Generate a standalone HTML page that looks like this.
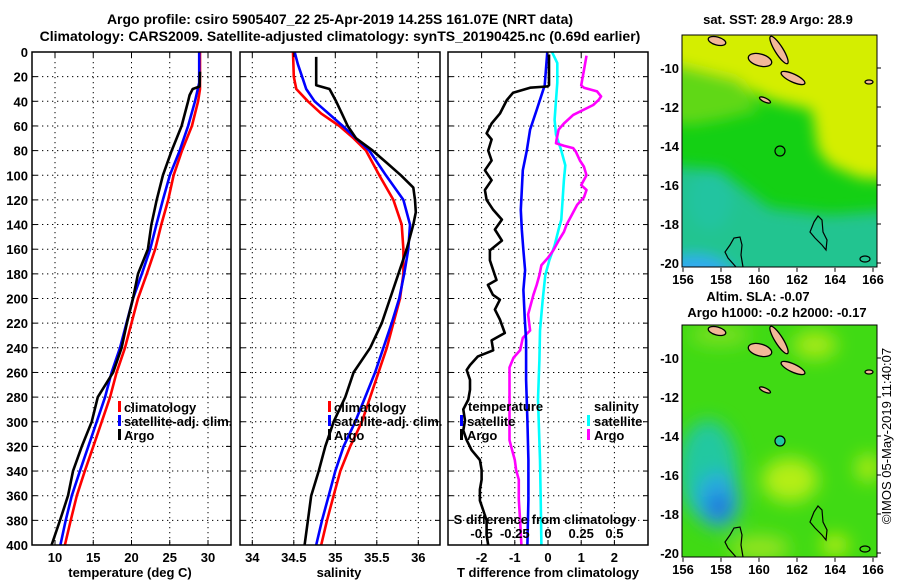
<!DOCTYPE html>
<html><head><meta charset="utf-8">
<style>
html,body{margin:0;padding:0;background:#fff;}
svg{display:block;font-family:"Liberation Sans",Arial,sans-serif;}
.b{font-weight:bold;font-size:13px;fill:#000;}
.t{font-weight:bold;font-size:14px;fill:#000;}
</style></head>
<body>
<svg id="chart" width="900" height="580" viewBox="0 0 900 580" xmlns="http://www.w3.org/2000/svg">
<defs>
<filter id="blur1" x="-20%" y="-20%" width="140%" height="140%"><feGaussianBlur stdDeviation="7"/></filter>
<filter id="blur2" x="-20%" y="-20%" width="140%" height="140%"><feGaussianBlur stdDeviation="9"/></filter>
<clipPath id="clipMap1"><rect x="682" y="35" width="195" height="232"/></clipPath>
<clipPath id="clipMap2"><rect x="682" y="325" width="195" height="232"/></clipPath>
</defs>
<text class="t" x="340" y="24" text-anchor="middle">Argo profile: csiro 5905407_22 25-Apr-2019 14.25S 161.07E (NRT data)</text>
<text class="t" x="340" y="41" text-anchor="middle">Climatology: CARS2009. Satellite-adjusted climatology: synTS_20190425.nc (0.69d earlier)</text>
<g id="grids"></g>
<g id="series"></g>
<g id="frames"></g>
<g id="labels"></g>

<!-- Map 1: SST -->
<g>
<text class="b" x="778" y="24" text-anchor="middle">sat. SST: 28.9 Argo: 28.9</text>
<g clip-path="url(#clipMap1)">
<rect x="682" y="35" width="195" height="232" fill="#14d014"/>
<g filter="url(#blur1)">
<polygon points="660,20 900,20 900,180 860,178 830,165 818,150 812,110 770,100 730,80 700,72 660,70" fill="#d4ee06"/>
<polygon points="660,60 740,80 760,110 720,120 690,125 660,120" fill="#60d818"/>
<polygon points="660,165 720,170 770,208 830,215 900,210 900,290 660,290" fill="#22c490"/>
<ellipse cx="695" cy="280" rx="40" ry="25" fill="#30aaf0"/>
<ellipse cx="710" cy="200" rx="22" ry="30" fill="#24c4a0"/>
</g>
</g>
<rect x="682" y="35" width="195" height="232" fill="none" stroke="#000" stroke-width="1"/>
<g fill="#f2b898" stroke="#000" stroke-width="1.3">
<ellipse cx="760" cy="60" rx="12" ry="6" transform="rotate(15 760 60)"/>
<ellipse cx="779" cy="50" rx="16" ry="4" transform="rotate(58 779 50)"/>
<ellipse cx="793" cy="78" rx="13" ry="4" transform="rotate(25 793 78)"/>
<ellipse cx="717" cy="41" rx="9" ry="4" transform="rotate(15 717 41)"/>
<ellipse cx="765" cy="100" rx="6" ry="2" transform="rotate(25 765 100)"/>
<ellipse cx="869" cy="82" rx="4" ry="2"/>
</g>
<g fill="none" stroke="#000" stroke-width="1.2">
<path d="M736,267 L728,258 L725,252 L730,245 L734,238 L740,237 L742,245 L741,255 L743,267"/>
<path d="M814,222 L818,216 L822,220 L823,232 L827,240 L826,250 L822,245 L815,238 L810,232 Z"/>
<ellipse cx="865" cy="259" rx="5" ry="3"/>
<circle cx="780" cy="151" r="5"/>
</g>
</g>

<!-- Map 2: SLA -->
<g>
<text class="b" x="758" y="301" text-anchor="middle">Altim. SLA: -0.07</text>
<text class="b" x="777" y="317" text-anchor="middle">Argo h1000: -0.2 h2000: -0.17</text>
<g clip-path="url(#clipMap2)">
<rect x="682" y="325" width="195" height="232" fill="#40da14"/>
<g filter="url(#blur2)">
<ellipse cx="815" cy="345" rx="22" ry="14" fill="#a8ea18"/>
<ellipse cx="720" cy="335" rx="30" ry="10" fill="#80e020"/>
<ellipse cx="868" cy="468" rx="12" ry="14" fill="#b0ec18"/>
<ellipse cx="790" cy="480" rx="28" ry="22" fill="#b4ee14"/>
<ellipse cx="760" cy="548" rx="30" ry="12" fill="#98e420"/>
<ellipse cx="835" cy="545" rx="14" ry="10" fill="#c0ee10"/>
<ellipse cx="708" cy="470" rx="30" ry="50" fill="#24c8a0"/>
<ellipse cx="718" cy="500" rx="22" ry="28" fill="#28a8e0"/>
<ellipse cx="719" cy="507" rx="10" ry="12" fill="#1c64d8"/>
</g>
</g>
<rect x="682" y="325" width="195" height="232" fill="none" stroke="#000" stroke-width="1"/>
<g fill="#f2b898" stroke="#000" stroke-width="1.3">
<ellipse cx="760" cy="350" rx="12" ry="6" transform="rotate(15 760 350)"/>
<ellipse cx="779" cy="340" rx="16" ry="4" transform="rotate(58 779 340)"/>
<ellipse cx="793" cy="368" rx="13" ry="4" transform="rotate(25 793 368)"/>
<ellipse cx="717" cy="331" rx="9" ry="4" transform="rotate(15 717 331)"/>
<ellipse cx="765" cy="390" rx="6" ry="2" transform="rotate(25 765 390)"/>
<ellipse cx="869" cy="372" rx="4" ry="2"/>
</g>
<g fill="none" stroke="#000" stroke-width="1.2">
<path d="M736,557 L728,548 L725,542 L730,535 L734,528 L740,527 L742,535 L741,545 L743,557"/>
<path d="M814,512 L818,506 L822,510 L823,522 L827,530 L826,540 L822,535 L815,528 L810,522 Z"/>
<ellipse cx="865" cy="549" rx="5" ry="3"/>
</g>
<circle cx="780" cy="441" r="5" fill="#22c8a0" stroke="#000" stroke-width="1.2"/>
<text x="896" y="441" font-size="13" text-anchor="middle" transform="rotate(-90 891 441)">©IMOS 05-May-2019 11:40:07</text>
</g>
<g id="maplabels"></g>
</svg>
<script>
// ---- data ----
const depthTicks = [0,20,40,60,80,100,120,140,160,180,200,220,240,260,280,300,320,340,360,380,400];
const tempTicks = [10,15,20,25,30];
const salTicks = [34,34.5,35,35.5,36];
const salTickLabels = ["34","34.5","35","35.5","36"];
const tdiffTicks = [-2,-1,0,1,2];
const sdiffTicks = [-0.5,-0.25,0,0.25,0.5];
const sdiffTickLabels = ["-0.5","-0.25","0","0.25","0.5"];

const tClimDepth = [0,30,40,60,80,100,120,140,160,180,200,220,240,260,280,300,320,340,360,380,400];
const tClim = [28.95,28.95,28.7,27.9,26.6,25.5,24.8,23.9,23.1,22.0,20.85,20.0,19.15,18.05,17.2,16.1,15.0,13.9,12.85,12.05,11.3];
const tSatDepth = [0,25,40,60,80,100,120,140,160,180,200,220,240,260,280,300,320,340,360,380,400];
const tSat = [28.85,28.85,28.3,27.4,26.3,25.0,24.1,23.25,22.45,21.35,20.2,19.35,18.5,17.4,16.55,15.45,14.35,13.25,12.2,11.4,10.7];
const tArgoDepth = [16,28,30,35,40,60,80,100,120,140,160,180,200,220,240,260,280,300,320,340,360,380,400];
const tArgo = [28.95,28.9,28.0,27.6,27.4,26.55,25.25,24.1,23.3,22.6,22.15,20.85,20.2,19.4,18.7,17.6,15.6,14.8,13.5,12.35,11.7,10.65,9.55];

const sClimDepth = [0,20,30,40,50,60,70,80,100,120,140,160,180,200,220,240,260,280,300,320,340,360,380,400];
const sClim = [34.49,34.5,34.53,34.67,34.83,35.05,35.22,35.37,35.53,35.7,35.8,35.82,35.82,35.78,35.7,35.62,35.52,35.42,35.32,35.18,35.06,34.98,34.9,34.83];
const sSatDepth = [0,10,20,30,40,60,80,100,120,140,160,180,200,220,240,260,280,300,320,340,360,380,400];
const sSat = [34.51,34.55,34.6,34.65,34.75,35.09,35.41,35.61,35.82,35.9,35.88,35.83,35.77,35.68,35.58,35.48,35.36,35.24,35.1,35.0,34.92,34.84,34.77];
const sArgoDepth = [4,27,30,40,50,60,70,80,90,100,110,120,130,140,150,160,180,200,220,240,260,280,300,320,340,360,380,400];
const sArgo = [34.77,34.77,34.93,35.01,35.08,35.15,35.25,35.45,35.62,35.79,35.94,35.96,35.97,35.94,35.9,35.86,35.76,35.66,35.56,35.42,35.22,35.12,34.98,34.88,34.8,34.71,34.67,34.63];

const dtSatDepth = [0,27,47,63,80,96,112,128,144,161,177,193,217,234,266,299,331,363,400];
const dtSat = [-0.02,-0.1,-0.34,-0.54,-0.64,-0.76,-0.79,-0.82,-0.79,-0.74,-0.69,-0.74,-0.7,-0.66,-0.66,-0.62,-0.59,-0.59,-0.62];
const dtArgoDepth = [2,27,28,29,33,39,50,58,66,71,80,88,96,104,112,120,128,136,144,153,161,169,177,185,189,197,201,209,217,228,234,242,247,254,258,266,274,282,290,299,307,315,323,331,339,347,355,364,372,380,392,400];
const dtArgo = [0.03,0.03,-0.04,-0.54,-1.05,-1.24,-1.45,-1.7,-1.85,-1.7,-1.8,-1.7,-1.9,-1.7,-1.9,-1.85,-1.65,-1.39,-1.6,-1.39,-1.75,-1.75,-1.65,-1.55,-1.81,-1.66,-1.45,-1.6,-1.45,-1.3,-1.7,-1.65,-2.11,-2.35,-2.45,-2.35,-2.35,-2.4,-2.55,-2.5,-2.55,-2.45,-2.3,-2.05,-2.0,-2.0,-2.05,-2.05,-1.95,-1.85,-1.85,-1.8];
const dsSatDepth = [0,9,25,39,55,67,80,92,104,120,136,144,157,169,181,201,226,250,282,331,363,400];
const dsSat = [0.03,0.07,0.07,0.06,0.05,0.06,0.1,0.13,0.12,0.11,0.1,0.08,0.05,0.01,-0.02,-0.04,-0.06,-0.065,-0.075,-0.06,-0.055,-0.05];
const dsArgoDepth = [3,15,27,29,32,36,39,43,51,58,63,71,74,76,78,81,88,93,100,108,112,118,124,132,140,146,153,161,167,173,181,189,197,201,213,226,232,242,248,256,282,299,315,323,331,339,347,363,380,400];
const dsArgo = [0.29,0.27,0.25,0.27,0.37,0.4,0.38,0.34,0.19,0.12,0.08,0.065,0.06,0.12,0.19,0.21,0.24,0.27,0.29,0.25,0.29,0.27,0.22,0.18,0.14,0.12,0.08,0.04,0.0,-0.05,-0.065,-0.085,-0.11,-0.12,-0.15,-0.135,-0.19,-0.21,-0.26,-0.29,-0.29,-0.29,-0.29,-0.27,-0.25,-0.24,-0.22,-0.22,-0.21,-0.2];

const lonTicks = [156,158,160,162,164,166];
const latTicks = [-10,-12,-14,-16,-18,-20];

// ---- axes ----
const TOP = 52, BOT = 545;
const P1 = {l:32, r:231}, P2 = {l:240, r:440}, P3 = {l:448, r:648};
const yD = d => TOP + d * (BOT - TOP) / 400;
const xT = v => 55 + (v - 10) * 7.65;
const xS = v => 252.3 + (v - 34) * 83;
const xDT = v => 548 + v * 33.2;
const xDS = v => 548 + v * 132.8;
const xLon = v => 683 + (v - 156) * 19;
const yLat1 = v => 68 + (-10 - v) * 19.5;
const yLat2 = v => 358 + (-10 - v) * 19.5;

const NS = "http://www.w3.org/2000/svg";
function mk(tag, attrs, parent) {
  const e = document.createElementNS(NS, tag);
  for (const k in attrs) e.setAttribute(k, attrs[k]);
  parent.appendChild(e);
  return e;
}
const grids = document.getElementById('grids');
const series = document.getElementById('series');
const frames = document.getElementById('frames');
const labels = document.getElementById('labels');
const maplabels = document.getElementById('maplabels');

function gridFor(p, ticksX, xf, name) {
  depthTicks.forEach(d => {
    if (d === 0 || d === 400) return;
    const l = mk('line', {x1:p.l, x2:p.r, y1:yD(d), y2:yD(d), stroke:'#000', 'stroke-width':1, 'stroke-dasharray':'1.3,3.7'}, grids);
    
    
    mk('line', {x1:p.l, x2:p.l+5, y1:yD(d), y2:yD(d), stroke:'#000', 'stroke-width':1}, frames);
    mk('line', {x1:p.r-5, x2:p.r, y1:yD(d), y2:yD(d), stroke:'#000', 'stroke-width':1}, frames);
  });
  ticksX.forEach(v => {
    const l = mk('line', {x1:xf(v), x2:xf(v), y1:TOP, y2:BOT, stroke:'#000', 'stroke-width':1, 'stroke-dasharray':'1.3,3.7'}, grids);
    
    
    mk('line', {x1:xf(v), x2:xf(v), y1:BOT-5, y2:BOT, stroke:'#000', 'stroke-width':1}, frames);
    mk('line', {x1:xf(v), x2:xf(v), y1:TOP, y2:TOP+5, stroke:'#000', 'stroke-width':1}, frames);
  });
  const f = mk('rect', {x:p.l, y:TOP, width:p.r-p.l, height:BOT-TOP, fill:'none', stroke:'#000', 'stroke-width':1.5}, frames);
  
  
}
gridFor(P1, tempTicks, xT, 'temperature-panel');
gridFor(P2, salTicks, xS, 'salinity-panel');
gridFor(P3, tdiffTicks, xDT, 'difference-panel');

function line(depths, vals, xf, color, name) {
  const pts = depths.map((d, i) => xf(vals[i]).toFixed(1) + ',' + yD(d).toFixed(1)).join(' ');
  const p = mk('polyline', {points:pts, fill:'none', stroke:color, 'stroke-width':2.6, 'stroke-linejoin':'round'}, series);
  
  
}
line(tClimDepth, tClim, xT, '#ff0000', 'temperature-climatology-line');
line(tSatDepth, tSat, xT, '#0000ff', 'temperature-satellite-line');
line(tArgoDepth, tArgo, xT, '#000000', 'temperature-argo-line');
line(sClimDepth, sClim, xS, '#ff0000', 'salinity-climatology-line');
line(sSatDepth, sSat, xS, '#0000ff', 'salinity-satellite-line');
line(sArgoDepth, sArgo, xS, '#000000', 'salinity-argo-line');
line(dsSatDepth, dsSat, xDS, '#00ffff', 'salinity-diff-satellite-line');
line(dsArgoDepth, dsArgo, xDS, '#ff00ff', 'salinity-diff-argo-line');
line(dtSatDepth, dtSat, xDT, '#0000ff', 'temperature-diff-satellite-line');
line(dtArgoDepth, dtArgo, xDT, '#000000', 'temperature-diff-argo-line');

function txt(x, y, s, anchor, name, cls) {
  const t = mk('text', {x:x, y:y, 'text-anchor':anchor || 'start', class:cls || 'b'}, labels);
  t.textContent = s;
  
  
  return t;
}
depthTicks.forEach(d => txt(28, yD(d) + 5, String(d), 'end', 'depth-tick-label'));
tempTicks.forEach(v => txt(xT(v), 562, String(v), 'middle', 'temperature-tick-label'));
salTicks.forEach((v, i) => txt(xS(v), 562, salTickLabels[i], 'middle', 'salinity-tick-label'));
tdiffTicks.forEach(v => txt(xDT(v), 562, String(v), 'middle', 'tdiff-tick-label'));
sdiffTicks.forEach((v, i) => txt(xDS(v), 538, sdiffTickLabels[i], 'middle', 'sdiff-tick-label'));
txt(130, 577, 'temperature (deg C)', 'middle', 'temperature-axis-title');
txt(339, 577, 'salinity', 'middle', 'salinity-axis-title');
txt(548, 577, 'T difference from climatology', 'middle', 'tdiff-axis-title');
txt(545, 524, 'S difference from climatology', 'middle', 'sdiff-axis-title');

function legendItem(bx, tx, y, color, s, name) {
  if (color) {
    const r = mk('rect', {x:bx, y:y-11, width:3, height:11, fill:color}, labels);
    
    
  }
  txt(tx, y, s, 'start', name);
}
legendItem(118, 124, 412, '#ff0000', 'climatology', 'legend-climatology');
legendItem(118, 124, 426, '#0000ff', 'satellite-adj. clim.', 'legend-satellite-adj');
legendItem(118, 124, 440, '#000000', 'Argo', 'legend-argo');
legendItem(328, 334, 412, '#ff0000', 'climatology', 'legend-sal-climatology');
legendItem(328, 334, 426, '#0000ff', 'satellite-adj. clim.', 'legend-sal-satellite-adj');
legendItem(328, 334, 440, '#000000', 'Argo', 'legend-sal-argo');
legendItem(0, 468, 411, null, 'temperature', 'legend-temperature-heading');
legendItem(460, 467, 426, '#0000ff', 'satellite', 'legend-temp-satellite');
legendItem(460, 467, 440, '#000000', 'Argo', 'legend-temp-argo');
legendItem(0, 594, 411, null, 'salinity', 'legend-salinity-heading');
legendItem(587, 594, 426, '#00ffff', 'satellite', 'legend-sal-satellite');
legendItem(587, 594, 440, '#ff00ff', 'Argo', 'legend-sal-argo-diff');

// map tick labels
[[yLat1, 284], [yLat2, 574]].forEach(([yl, ly]) => {
  lonTicks.forEach(v => {
    const t = mk('text', {x:xLon(v), y:ly, 'text-anchor':'middle', class:'b'}, maplabels);
    t.textContent = String(v);
    
    
    mk('line', {x1:xLon(v), x2:xLon(v), y1:yl(-20.25), y2:yl(-20.25)+4, stroke:'#000'}, maplabels);
  });
  latTicks.forEach(v => {
    const t = mk('text', {x:679, y:yl(v)+5, 'text-anchor':'end', class:'b'}, maplabels);
    t.textContent = String(v);
    
    
    mk('line', {x1:877, x2:881, y1:yl(v), y2:yl(v), stroke:'#000'}, maplabels);
  });
});
</script>
</body></html>
